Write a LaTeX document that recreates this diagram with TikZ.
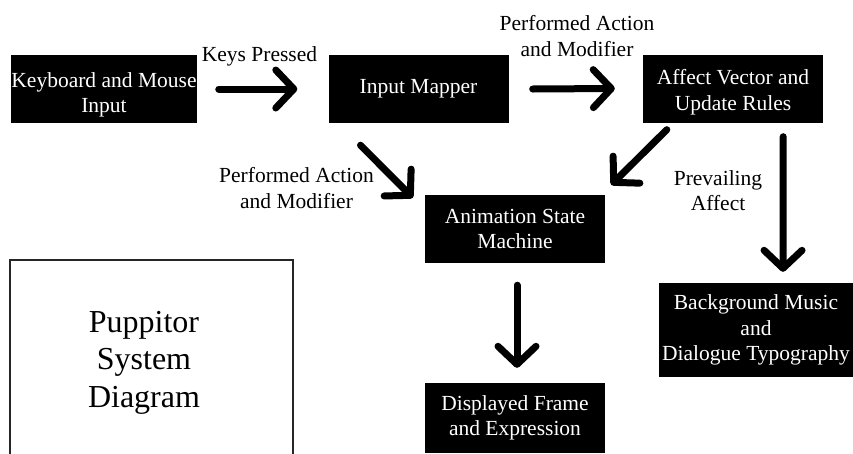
\documentclass[tikz,border=0pt]{standalone}
\usepackage{fontspec}
\setmainfont{Liberation Serif}
\usetikzlibrary{arrows.meta,calc}
\begin{document}
\begin{tikzpicture}[x=1pt,y=1pt,
  blk/.style={fill=black, text=white, align=center, inner sep=0pt,
    minimum width=180pt, minimum height=68pt,
    font=\fontsize{21.5}{25.5}\selectfont},
  lbl/.style={align=center, inner sep=0pt, text=black,
    font=\fontsize{21.5}{25.5}\selectfont},
  flow/.style={line width=7pt, line cap=round, line join=round,
    -{Straight Barb[length=18pt,width=38pt,round]}}]
\useasboundingbox (0,0) rectangle (853,-453);
\fill[white] (0,0) rectangle (853,-453);
% boxes
\node[blk] (kb)  at (104,-89)   {\rule{0pt}{27pt}Keyboard and Mouse\\Input};
\node[blk] (im)  at (418.5,-89) {Input Mapper};
\node[blk] (av)  at (733,-88.5) {\rule{0pt}{23pt}Affect Vector and\\Update Rules};
\node[blk] (asm) at (515,-229)  {Animation State\\Machine};
\node[blk, minimum width=194pt, minimum height=94pt] (bg) at (756,-330)
  {Background Music\\and\\Dialogue Typography};
\node[blk, minimum height=70pt] (df) at (515,-418) {Displayed Frame\\and Expression};
% title box
\draw[line width=1.2pt, draw=black!85] (10,-455) -- (10,-260) -- (293,-260) -- (293,-455);
\node[align=center, inner sep=0pt, font=\fontsize{32}{37.5}\selectfont] (title) at (144,-362.5)
  {Puppitor\\System\\Diagram};
% labels
\node[lbl] (l1) at (259.5,-56) {Keys Pressed};
\node[lbl] (l2) at (577,-36) {Performed Action\\and Modifier};
\node[lbl] (l3) at (296.5,-188) {Performed Action\\and Modifier};
\node[lbl] (l4) at (718,-190.5) {Prevailing\\Affect};
% connectors
\draw[flow] ($(kb.east)+(22,0)$) -- ($(im.west)+(-31,0)$);
\draw[flow] ($(im.east)+(24,0)$) -- ($(av.west)+(-28,0)$);
\draw[flow] ($(im.south)+(-58,-22)$) -- ($(asm.north west)+(-12,-3)$);
\draw[flow] ($(av.south west)+(24,-7)$) -- ($(asm.north east)+(6,10)$);
\draw[flow] ($(av.south east)+(-40,-14)$) -- ($(bg.north)+(27,11)$);
\draw[flow] ($(asm.south)+(2,-22)$) -- ($(df.north)+(2,15)$);
\end{tikzpicture}
\end{document}
